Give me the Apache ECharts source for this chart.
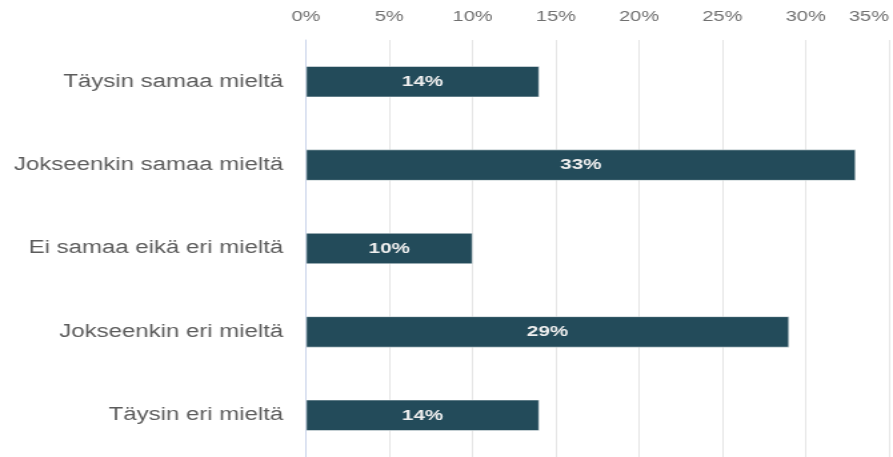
<!DOCTYPE html>
<html>
<head>
<meta charset="utf-8">
<script src="https://cdn.jsdelivr.net/npm/echarts@6/dist/echarts.min.js"></script>
<style>
  html, body { margin: 0; padding: 0; background: #ffffff; overflow: hidden; }
  /* The chart is drawn in a narrower box and widened, giving the broad lettering */
  #chart { width: 670px; height: 457px; transform: scaleX(1.3328); transform-origin: 0 0; }
</style>
</head>
<body>
<div id="chart"></div>
<script>
// Response categories (top to bottom)
const categories = [
  'Täysin samaa mieltä',
  'Jokseenkin samaa mieltä',
  'Ei samaa eikä eri mieltä',
  'Jokseenkin eri mieltä',
  'Täysin eri mieltä'
];
// Share of respondents, percent
const shares = [14, 33, 10, 29, 14];

const FONT = '"Liberation Sans", Arial, Helvetica, sans-serif';

const chart = echarts.init(document.getElementById('chart'), null, { renderer: 'canvas' });
chart.setOption({
  animation: false,
  backgroundColor: '#ffffff',
  grid: { left: 229.6, top: 40, width: 438.5, height: 422, containLabel: false },
  xAxis: {
    type: 'value',
    position: 'top',
    min: 0,
    max: 35,
    interval: 5,
    axisLine: { show: false },
    axisTick: { show: false },
    splitLine: { show: true, lineStyle: { color: '#e6e6e6', width: 1 } },
    axisLabel: {
      formatter: '{value}%',
      color: '#707070',
      fontSize: 15,
      fontFamily: FONT,
      margin: 16,
      alignMaxLabel: 'right'
    }
  },
  yAxis: {
    type: 'category',
    inverse: true,
    data: categories,
    axisLine: { show: true, lineStyle: { color: '#ccd6eb', width: 1 } },
    axisTick: { show: false },
    splitLine: { show: false },
    axisLabel: {
      color: '#5c5c5c',
      fontSize: 18,
      fontFamily: FONT,
      margin: 17
    }
  },
  series: [{
    type: 'bar',
    data: shares,
    barWidth: 31,
    itemStyle: { color: '#234b5a', borderColor: '#ffffff', borderWidth: 0.5 },
    label: {
      show: true,
      position: 'inside',
      formatter: '{c}%',
      color: '#eeeeee',
      fontSize: 15.5,
      fontWeight: 'bold',
      fontFamily: FONT
    }
  }]
});
</script>
</body>
</html>
